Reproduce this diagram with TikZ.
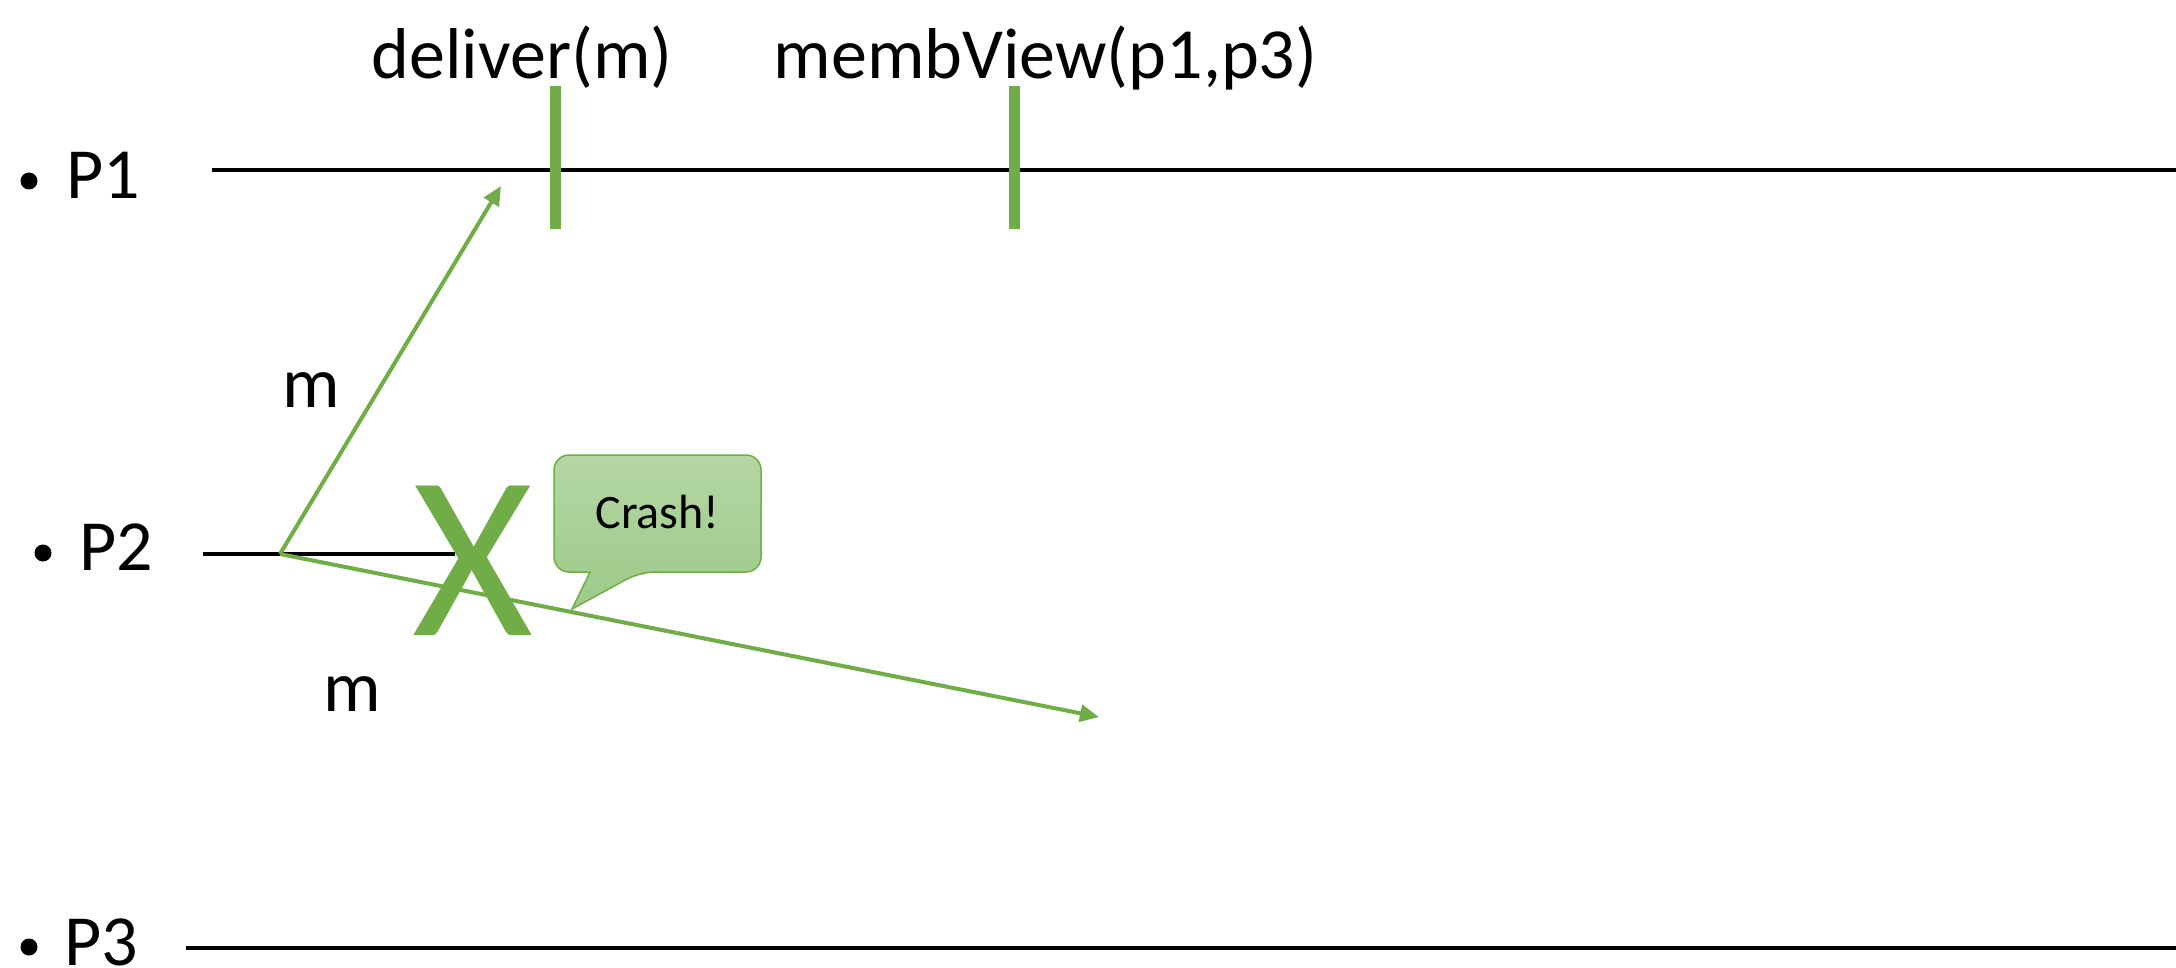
\documentclass[tikz,border=0pt]{standalone}
\usepackage{fontspec}
\setmainfont{Carlito}
\usetikzlibrary{arrows.meta}
\definecolor{xgreen}{HTML}{70AD47}
\definecolor{calltop}{HTML}{B4D6A4}
\definecolor{callbot}{HTML}{9DCA88}
\tikzset{
  lbl/.style={font=\fontsize{72}{80}\selectfont, inner sep=0pt, anchor=base},
  timeline/.style={line width=4pt, black},
  tickmark/.style={line width=11pt, xgreen},
  msg/.style={line width=4pt, xgreen, -{Triangle[length=19pt, width=17pt]}},
  dot/.style={circle, fill=black, inner sep=0pt, minimum size=17pt},
}
\begin{document}
\begin{tikzpicture}[x=1pt, y=-1pt]
\useasboundingbox (0,0) rectangle (2176,968);

% process labels
\node[dot] (b1) at (29,181) {};
\node[lbl] (n1) at (103.5,199) {P1};
\node[dot] (b2) at (43,553) {};
\node[lbl] (n2) at (116.5,570) {P2};
\node[dot] (b3) at (29,947) {};
\node[lbl] (n3) at (101.5,965) {P3};

% timelines
\coordinate (p1s) at (212,170);
\coordinate (p1e) at (2176,170);
\coordinate (p2s) at (203,554);
\coordinate (p2e) at (455,554);
\coordinate (p3s) at (186,948);
\coordinate (p3e) at (2176,948);
\draw[timeline] (p1s) -- (p1e);
\draw[timeline] (p2s) -- (p2e);
\draw[timeline] (p3s) -- (p3e);

% events on P1
\coordinate (t1a) at (555.5,86);
\coordinate (t1b) at (555.5,229);
\coordinate (t2a) at (1014,86);
\coordinate (t2b) at (1014,229);
\draw[tickmark] (t1a) -- (t1b);
\draw[tickmark] (t2a) -- (t2b);
\node[lbl] (ev1) at (522,79) {deliver(m)};
\node[lbl] (ev2) at (1045.5,79) {membView(p1,p3)};

% messages sent by P2
\coordinate (src) at (280,554);
\coordinate (dst1) at (501,186);
\coordinate (dst2) at (1099,717);
\draw[msg] (src) -- (dst1);
\draw[msg] (src) -- (dst2);
\node[lbl] (m1) at (311,407) {m};
\node[lbl] (m2) at (352,711) {m};

% crash of P2
\node[lbl, text=xgreen, font=\fontsize{233}{233}\selectfont] (cross) at (472.5,635) {X};

% speech bubble
\path[draw=xgreen, line width=1.5pt, top color=calltop, bottom color=callbot]
  (590,572) [rounded corners=15pt] -- (554,572) -- (554,455) -- (761,455) -- (761,572)
  -- (640,572) [sharp corners] -- (572,609) -- cycle;
\node[lbl, font=\fontsize{48}{56}\selectfont] (crash) at (657.5,528) {Crash!};
\end{tikzpicture}
\end{document}
